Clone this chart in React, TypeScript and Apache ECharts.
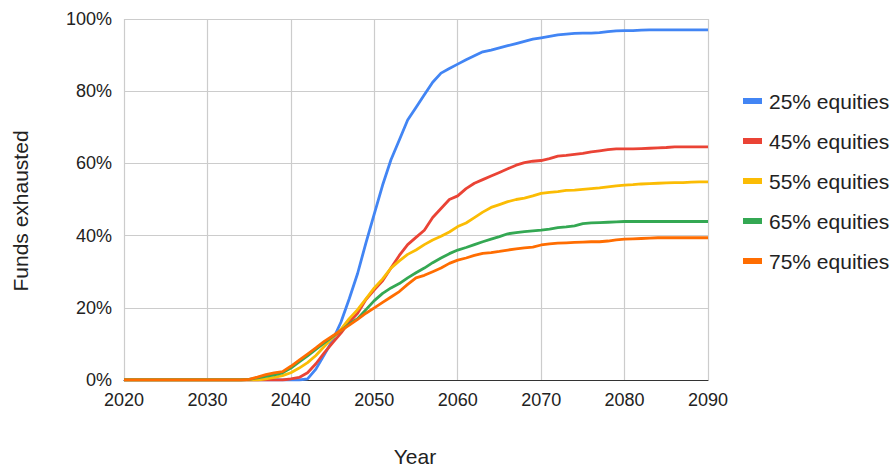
import React, { useEffect, useRef } from "react";
import * as echarts from "echarts";

const years: number[] = [];
for (let y = 2020; y <= 2090; y++) years.push(y);

const seriesNames = ["25% equities", "45% equities", "55% equities", "65% equities", "75% equities"];
const colors = ["#4285F4", "#EA4335", "#FBBC04", "#34A853", "#FF6D01"];

const eq25 = [
  0, 0, 0, 0, 0, 0, 0, 0, 0, 0, 0, 0, 0, 0, 0, 0, 0, 0, 0, 0, 0, 0,
  0.3, 3, 7, 11, 16, 22.5, 29.5, 38, 46, 54,
  61, 66.5, 72, 75.5, 79, 82.5, 85, 86.3, 87.5, 88.7,
  89.8, 90.9, 91.4, 92, 92.6, 93.2, 93.8, 94.4, 94.8, 95.2,
  95.6, 95.8, 96, 96.1, 96.1, 96.2, 96.5, 96.7, 96.8, 96.8,
  96.9, 97, 97, 97, 97, 97, 97, 97, 97,
];
const eq45 = [
  0, 0, 0, 0, 0, 0, 0, 0, 0, 0, 0, 0, 0, 0, 0, 0, 0, 0, 0, 0,
  0.3, 0.7, 2, 4.5, 7.5, 10.3, 13, 16, 18.5, 22.3,
  25, 27.5, 31, 34.5, 37.5, 39.5, 41.5, 45, 47.5, 50,
  51, 53, 54.5, 55.5, 56.5, 57.5, 58.5, 59.5, 60.2, 60.6,
  60.8, 61.3, 62, 62.2, 62.5, 62.8, 63.2, 63.5, 63.8, 64,
  64, 64, 64.1, 64.2, 64.3, 64.4, 64.6, 64.6, 64.6, 64.6,
  64.6,
];
const eq55 = [
  0, 0, 0, 0, 0, 0, 0, 0, 0, 0, 0, 0, 0, 0, 0, 0, 0,
  0.3, 0.7, 1.2,
  2, 3.3, 4.8, 6.8, 9.3, 11.7, 14, 17, 19.5, 22.5,
  25.5, 28, 31, 33, 34.8, 36, 37.5, 38.8, 39.8, 41,
  42.5, 43.5, 45, 46.5, 47.8, 48.6, 49.4, 50, 50.4, 51,
  51.7, 52, 52.2, 52.5, 52.6, 52.8, 53, 53.2, 53.5, 53.8,
  54, 54.1, 54.3, 54.4, 54.5, 54.6, 54.7, 54.7, 54.8, 54.9,
  54.9,
];
const eq65 = [
  0, 0, 0, 0, 0, 0, 0, 0, 0, 0, 0, 0, 0, 0, 0,
  0.2, 0.6, 1, 1.4, 2,
  3.3, 5, 6.7, 8.5, 10.3, 12, 13.7, 15.5, 17, 19.5,
  22, 24, 25.5, 26.7, 28.3, 29.7, 31, 32.5, 33.8, 35,
  36, 36.7, 37.5, 38.3, 39, 39.7, 40.5, 40.8, 41.1, 41.3,
  41.5, 41.8, 42.2, 42.4, 42.7, 43.3, 43.5, 43.6, 43.7, 43.8,
  43.9, 43.9, 43.9, 43.9, 43.9, 43.9, 43.9, 43.9, 43.9, 43.9,
  43.9,
];
const eq75 = [
  0, 0, 0, 0, 0, 0, 0, 0, 0, 0, 0, 0, 0, 0, 0,
  0.2, 0.8, 1.5, 2, 2.3,
  3.8, 5.5, 7.2, 8.9, 10.7, 12.2, 13.7, 15.2, 16.8, 18.5,
  20, 21.5, 23, 24.5, 26.5, 28.3, 29, 30, 31, 32.3,
  33.2, 33.8, 34.5, 35.1, 35.3, 35.6, 36, 36.3, 36.6, 36.8,
  37.4, 37.7, 37.9, 38, 38.1, 38.2, 38.3, 38.3, 38.5, 38.8,
  39, 39.1, 39.2, 39.3, 39.4, 39.4, 39.4, 39.4, 39.4, 39.4,
  39.4,
];
const allValues = [eq25, eq45, eq55, eq65, eq75];

const yTicks = [0, 20, 40, 60, 80, 100];
const xTicks = [2020, 2030, 2040, 2050, 2060, 2070, 2080, 2090];

const FONT = "'Liberation Sans', Arial, sans-serif";

export default function App() {
  const ref = useRef<HTMLDivElement>(null);
  useEffect(() => {
    if (!ref.current) return;
    const chart = echarts.init(ref.current, undefined, { renderer: "svg" });
    chart.setOption({
      animation: false,
      backgroundColor: "#ffffff",
      textStyle: { fontFamily: FONT },
      grid: { left: 124, right: 186, top: 19, bottom: 86 },
      xAxis: {
        type: "value",
        min: xTicks[0],
        max: xTicks[xTicks.length - 1],
        interval: 10,
        axisLine: { show: true, lineStyle: { color: "#333333", width: 1.2 } },
        axisTick: { show: false },
        axisLabel: { color: "#222222", fontSize: 18, margin: 11, fontFamily: FONT, formatter: (v: number) => String(v) },
        splitLine: { show: true, lineStyle: { color: "#cccccc", width: 1.2 } },
      },
      yAxis: {
        type: "value",
        min: yTicks[0],
        max: yTicks[yTicks.length - 1],
        interval: 20,
        axisLine: { show: false },
        axisTick: { show: false },
        axisLabel: { color: "#222222", fontSize: 18, margin: 12, fontFamily: FONT, formatter: "{value}%" },
        splitLine: { show: true, lineStyle: { color: "#cccccc", width: 1.2 } },
      },
      legend: {
        orient: "vertical",
        left: 738,
        top: 85,
        itemWidth: 19,
        itemHeight: 6,
        itemGap: 18,
        icon: "rect",
        textStyle: { color: "#222222", fontSize: 21, lineHeight: 22, fontFamily: FONT, padding: [0, 0, 0, 2] },
        data: seriesNames,
      },
      graphic: [
        {
          type: "text",
          x: 20,
          y: 211,
          rotation: Math.PI / 2,
          style: { text: "Funds exhausted", fontSize: 21, fontFamily: FONT, fill: "#222222", align: "center", verticalAlign: "middle" },
        },
        {
          type: "text",
          x: 415,
          y: 456,
          style: { text: "Year", fontSize: 21, fontFamily: FONT, fill: "#222222", align: "center", verticalAlign: "middle" },
        },
      ],
      series: seriesNames.map((name, i) => ({
        name,
        type: "line",
        showSymbol: false,
        symbol: "none",
        color: colors[i],
        lineStyle: { width: 2.8, color: colors[i] },
        data: years.map((yr, j) => [yr, allValues[i][j]]),
      })),
    });
    return () => chart.dispose();
  }, []);
  return <div ref={ref} style={{ position: "fixed", left: 0, top: 0, width: 894, height: 466 }} />;
}
